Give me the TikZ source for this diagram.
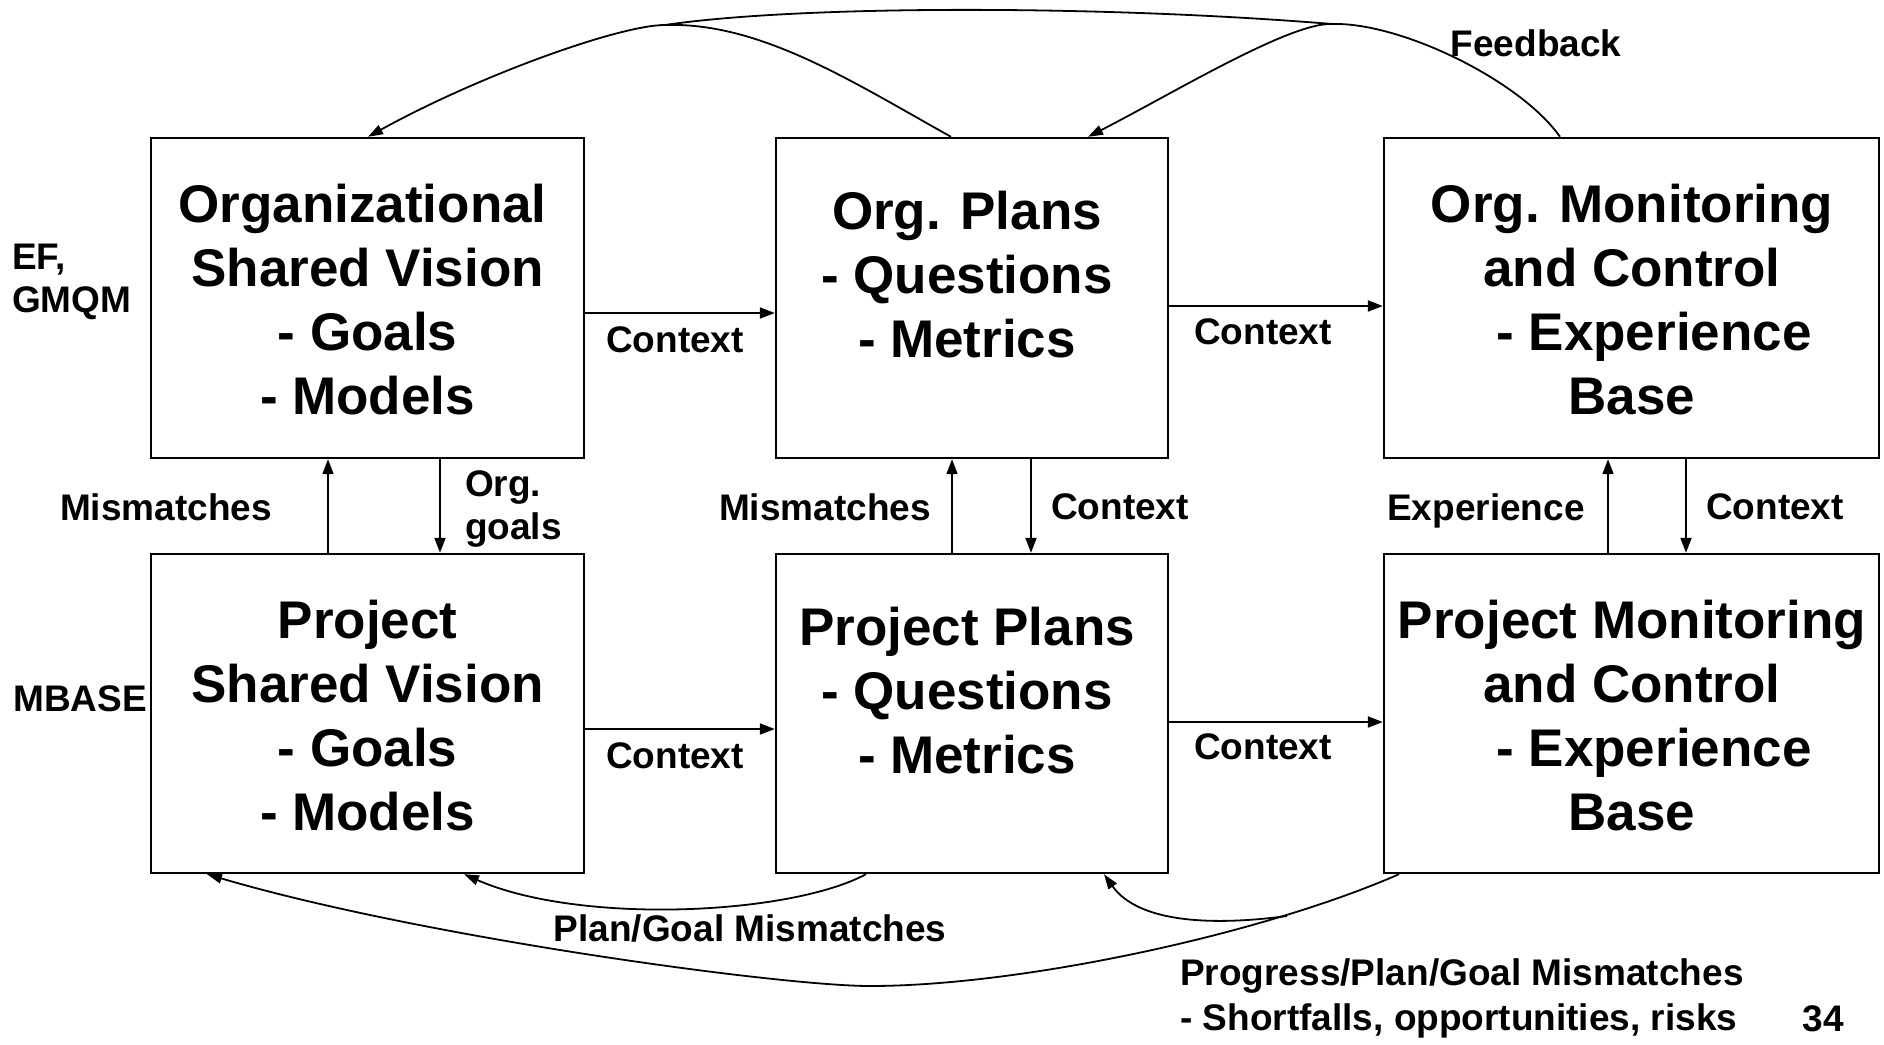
\documentclass[tikz,border=0pt]{standalone}
\usepackage{fontspec}
\setmainfont{Liberation Sans}
\usetikzlibrary{arrows.meta}
\begin{document}
\begin{tikzpicture}[x=1pt,y=-1pt,
  box/.style={draw, line width=2.4pt, inner sep=0pt},
  big/.style={font=\fontsize{53}{64}\selectfont\bfseries, align=center, inner sep=0pt},
  lab/.style={font=\fontsize{37}{43}\selectfont\bfseries, inner sep=0pt},
  arr/.style={line width=2pt, -{Triangle[length=15pt,width=11pt]}},
  crv/.style={line width=1.8pt, -{Triangle[length=15pt,width=10pt]}}]
\fill[white] (0,0) rectangle (1884,1044);
\useasboundingbox (0,0) rectangle (1884,1044);
% boxes
\node[box, minimum width=433pt, minimum height=320pt] (b1) at (367.5,298) {};
\node[box, minimum width=392pt, minimum height=320pt] (b2) at (972,298) {};
\node[box, minimum width=495pt, minimum height=320pt] (b3) at (1631.5,298) {};
\node[box, minimum width=433pt, minimum height=319pt] (b4) at (367.5,713.5) {};
\node[box, minimum width=392pt, minimum height=319pt] (b5) at (972,713.5) {};
\node[box, minimum width=495pt, minimum height=319pt] (b6) at (1631.5,713.5) {};
% box texts
\node[big] (t1) at (367.5,300) {Organizational\hspace*{10pt}\\Shared Vision\\- Goals\\- Models};
\node[big] (t2) at (967,274.5) {Org. Plans\\- Questions\\- Metrics};
\node[big] (t3) at (1632,299.5) {Org. Monitoring\\and Control\\\hspace*{44pt}- Experience\\Base};
\node[big] (t4) at (367.5,716) {Project\\Shared Vision\\- Goals\\- Models};
\node[big] (t5) at (967,691) {Project Plans\\- Questions\\- Metrics};
\node[big] (t6) at (1632,716) {Project Monitoring\\and Control\\\hspace*{44pt}- Experience\\Base};
% side labels
\node[lab, align=left, anchor=west] (ef) at (12,282) {EF,\\GMQM};
\node[lab] (mb) at (80,699) {MBASE};
% horizontal connectors
\draw[arr] (b1.east |- 0,313) -- (b2.west |- 0,313);
\draw[arr] (b2.east |- 0,306) -- (b3.west |- 0,306);
\draw[arr] (b4.east |- 0,729) -- (b5.west |- 0,729);
\draw[arr] (b5.east |- 0,722) -- (b6.west |- 0,722);
\node[lab] (c1) at (675,340) {Context};
\node[lab] (c2) at (1263,332) {Context};
\node[lab] (c3) at (675,756) {Context};
\node[lab] (c4) at (1263,747) {Context};
% vertical connectors
\draw[arr] (b4.north -| 328,0) -- (b1.south -| 328,0);
\draw[arr] (b1.south -| 440,0) -- (b4.north -| 440,0);
\draw[arr] (b5.north -| 952,0) -- (b2.south -| 952,0);
\draw[arr] (b2.south -| 1031,0) -- (b5.north -| 1031,0);
\draw[arr] (b6.north -| 1608,0) -- (b3.south -| 1608,0);
\draw[arr] (b3.south -| 1686,0) -- (b6.north -| 1686,0);
\node[lab] (m1) at (166,507) {Mismatches};
\node[lab, align=left, anchor=west] (og) at (465,509) {Org.\\goals};
\node[lab] (m2) at (825,507) {Mismatches};
\node[lab] (c5) at (1120,507) {Context};
\node[lab] (ex) at (1486,511) {Experience};
\node[lab] (c6) at (1775,507) {Context};
% top feedback curves
\coordinate (apexL) at (665,25);
\coordinate (apexR) at (1332,24);
\draw[crv] (b2.north -| 951,0) .. controls (851,81) and (760,22) .. (apexL)
  .. controls (620,25) and (480,75) .. (b1.north -| 368,0);
\draw[crv] (b3.north -| 1560,0) .. controls (1520,80) and (1400,22) .. (apexR)
  .. controls (1290,22) and (1170,95) .. (b2.north -| 1088,0);
\draw[line width=1.8pt] (apexL) .. controls (800,5) and (1100,5) .. (apexR);
\node[lab] (fb) at (1536,43) {Feedback};
% bottom curves
\draw[crv] (b5.south -| 866,0) .. controls (790,915) and (580,925) .. (b4.south -| 464,0);
\coordinate (low) at (870,986);
\coordinate (branch) at (1287,916);
\draw[crv] (b6.south -| 1399,0) .. controls (1260,935) and (1020,986) .. (low)
  .. controls (780,986) and (420,937) .. (b4.south -| 207,0);
\draw[crv] (branch) .. controls (1220,925) and (1140,925) .. (b5.south -| 1104,0);
\node[lab] (pg) at (750,928) {Plan/Goal Mismatches};
\node[lab, align=left, anchor=west, font=\fontsize{37}{45}\selectfont\bfseries] (pp) at (1180,998) {Progress/Plan/Goal Mismatches\\- Shortfalls, opportunities, risks};
\node[lab] (pn) at (1823,1019) {34};
\end{tikzpicture}
\end{document}
